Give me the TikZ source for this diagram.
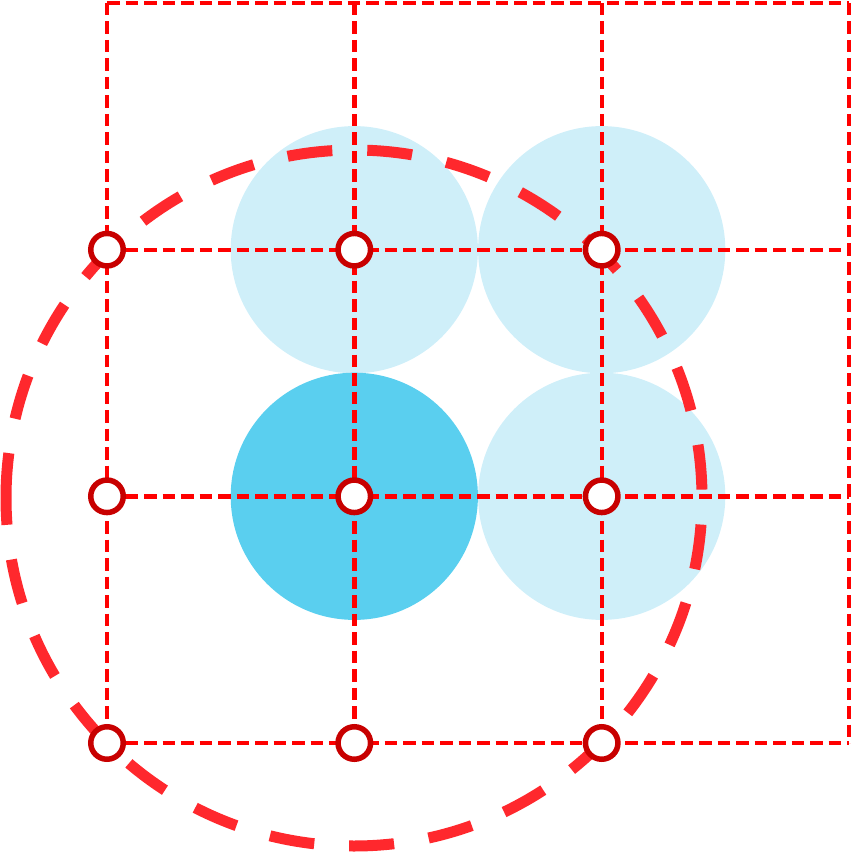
\documentclass[tikz,border=0pt]{standalone}
\usetikzlibrary{calc}
\definecolor{gridred}{RGB}{255,0,0}
\definecolor{ringred}{RGB}{200,0,0}
\definecolor{bigred}{RGB}{255,40,45}
\definecolor{lightblue}{RGB}{207,239,249}
\definecolor{darkblue}{RGB}{90,207,239}
\tikzset{
  gridline/.style={draw=gridred, line width=4.4pt, dash pattern=on 12.5pt off 6pt},
  bigring/.style={draw=bigred, line width=11pt, dash pattern=on 45pt off 35pt},
  pointnode/.style={circle, draw=ringred, fill=white, line width=5.5pt, minimum size=32.5pt, inner sep=0pt},
  lightdisc/.style={fill=lightblue},
  darkdisc/.style={fill=darkblue}
}
\begin{document}
\begin{tikzpicture}[x=1pt, y=-1pt]
\useasboundingbox (0,0) rectangle (854,853);
% discs
\fill[lightdisc] (354.3,249.7) circle (123.6);
\fill[lightdisc] (601.7,249.7) circle (123.6);
\fill[lightdisc] (601.7,496.3) circle (123.6);
\fill[darkdisc] (354.3,496.3) circle (123.6);
% grid
\foreach \x in {107,354.3,601.7,849} {
  \draw[gridline] (\x,3) -- (\x,743);
}
\foreach \y in {3,249.7,496.3,743} {
  \draw[gridline] (107,\y) -- (849,\y);
}
% big dashed circle, starting at its leftmost point and running clockwise
\coordinate (ringcentre) at (354,498);
\draw[bigring] (ringcentre) ++(-348,0) arc[start angle=180, end angle=540, radius=348];
% points
\foreach \x/\i in {107/0,354.3/1,601.7/2} {
  \foreach \y/\j in {249.7/1,496.3/2,743/3} {
    \node[pointnode] (p\i\j) at (\x,\y) {};
  }
}
\end{tikzpicture}
\end{document}
